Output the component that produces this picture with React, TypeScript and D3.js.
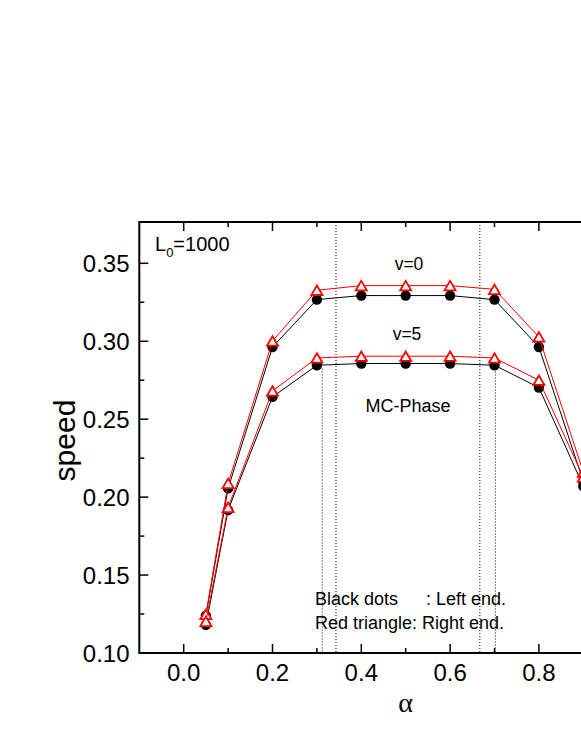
import React from "react";
import * as d3 from "d3";

const alpha = [0.05, 0.1, 0.2, 0.3, 0.4, 0.5, 0.6, 0.7, 0.8, 0.9];
const v0Left = [0.124, 0.2056, 0.2963, 0.3267, 0.3293, 0.3293, 0.3293, 0.3267, 0.2963, 0.21];
const v0Right = [0.1248, 0.2088, 0.3002, 0.3327, 0.3357, 0.3357, 0.3357, 0.3333, 0.3028, 0.216];
const v5Left = [0.118, 0.1917, 0.2643, 0.2846, 0.2857, 0.2857, 0.2857, 0.2846, 0.2703, 0.207];
const v5Right = [0.1203, 0.1934, 0.2681, 0.2893, 0.2904, 0.2904, 0.2904, 0.2893, 0.275, 0.213];

const xMajorTicks = [0.0, 0.2, 0.4, 0.6, 0.8, 1.0];
const xTickLabels = ["0.0", "0.2", "0.4", "0.6", "0.8"];
const xMinorTicks = [0.1, 0.3, 0.5, 0.7, 0.9];
const yMajorTicks = [0.1, 0.15, 0.2, 0.25, 0.3, 0.35];
const yMinorTicks = [0.125, 0.175, 0.225, 0.275, 0.325];

const phaseLinesFull = [0.343, 0.667];
const phaseLinesPartial = [0.312, 0.702];
const partialTop = 0.2825;

const W = 581;
const H = 752;
const X0 = -0.1, X1 = 1.1;
const Y0 = 0.1, Y1 = 0.3765;
const left = 139.3, right = 672.1, top = 222, bottom = 653;

export default function App() {
  const x = d3.scaleLinear().domain([X0, X1]).range([left, right]);
  const y = d3.scaleLinear().domain([Y0, Y1]).range([bottom, top]);
  const line = d3
    .line<[number, number]>()
    .x((d) => x(d[0]))
    .y((d) => y(d[1]));
  const pts = (vals: number[]) => alpha.map((a, i) => [a, vals[i]] as [number, number]);
  const font = "'Liberation Sans', Arial, sans-serif";

  const tri = (cx: number, cy: number) => {
    const w = 11, h = 9.5;
    return `M${cx},${cy - h / 2}L${cx + w / 2},${cy + h / 2}L${cx - w / 2},${cy + h / 2}Z`;
  };

  const blackSeries = [v0Left, v5Left];
  const redSeries = [v0Right, v5Right];

  return (
    <svg
      width={W}
      height={H}
      style={{ position: "absolute", left: 0, top: 0, overflow: "hidden", background: "#fff" }}
    >
      <defs>
        <clipPath id="plotclip">
          <rect x={left} y={top} width={right - left} height={bottom - top} />
        </clipPath>
      </defs>
      <rect x={0} y={0} width={W} height={H} fill="#fff" />

      {/* dotted phase lines */}
      <g stroke="#000" strokeWidth={1} strokeDasharray="1,2">
        {phaseLinesFull.map((v, i) => (
          <line key={"f" + i} x1={x(v)} x2={x(v)} y1={y(Y1)} y2={y(Y0)} />
        ))}
        {phaseLinesPartial.map((v, i) => (
          <line key={"p" + i} x1={x(v)} x2={x(v)} y1={y(partialTop)} y2={y(Y0)} />
        ))}
      </g>

      <g clipPath="url(#plotclip)">
        {blackSeries.map((s, i) => (
          <g key={"b" + i}>
            <path d={line(pts(s)) || ""} fill="none" stroke="#000" strokeWidth={1} />
            {pts(s).map((p, j) => (
              <circle key={j} cx={x(p[0])} cy={y(p[1])} r={5.2} fill="#000" />
            ))}
          </g>
        ))}
        {redSeries.map((s, i) => (
          <g key={"r" + i}>
            <path d={line(pts(s)) || ""} fill="none" stroke="#ff0000" strokeWidth={1} />
            {pts(s).map((p, j) => (
              <path key={j} d={tri(x(p[0]), y(p[1]))} fill="#fff" stroke="#ff0000" strokeWidth={1.8} />
            ))}
          </g>
        ))}
      </g>

      {/* frame */}
      <rect x={left} y={top} width={right - left} height={bottom - top} fill="none" stroke="#000" strokeWidth={2} />

      {/* ticks */}
      <g stroke="#000" strokeWidth={1.5}>
        {xMajorTicks.map((t) => (
          <g key={"xm" + t}>
            <line x1={x(t)} x2={x(t)} y1={bottom} y2={bottom - 9} />
            <line x1={x(t)} x2={x(t)} y1={top} y2={top + 9} />
          </g>
        ))}
        {xMinorTicks.map((t) => (
          <g key={"xn" + t}>
            <line x1={x(t)} x2={x(t)} y1={bottom} y2={bottom - 5} />
            <line x1={x(t)} x2={x(t)} y1={top} y2={top + 5} />
          </g>
        ))}
        {yMajorTicks.map((t) => (
          <line key={"ym" + t} x1={left} x2={left + 9} y1={y(t)} y2={y(t)} />
        ))}
        {yMinorTicks.map((t) => (
          <line key={"yn" + t} x1={left} x2={left + 5} y1={y(t)} y2={y(t)} />
        ))}
      </g>

      {/* tick labels */}
      <g fontFamily={font} fontSize={24} fill="#000">
        {xTickLabels.map((t) => (
          <text key={"xl" + t} x={x(+t)} y={681} textAnchor="middle">
            {t}
          </text>
        ))}
        {yMajorTicks.map((t) => (
          <text key={"yl" + t} x={129.5} y={y(t)} dy="0.36em" textAnchor="end">
            {d3.format(".2f")(t)}
          </text>
        ))}
      </g>

      {/* axis titles */}
      <text
        transform={`translate(75,${(top + bottom) / 2 + 3}) rotate(-90)`}
        textAnchor="middle"
        fontFamily={font}
        fontSize={30}
        fill="#000"
      >
        speed
      </text>
      <text x={x(0.5)} y={712} textAnchor="middle" fontFamily="'Liberation Serif', 'DejaVu Serif', serif" fontSize={28} fill="#000">
        α
      </text>

      {/* annotations */}
      <g fontFamily={font} fill="#000">
        <text x={155} y={251} fontSize={20}>
          L<tspan fontSize={13} dy={6}>0</tspan>
          <tspan dy={-6}>=1000</tspan>
        </text>
        <text x={409} y={270} fontSize={17.5} textAnchor="middle">v=0</text>
        <text x={407} y={340} fontSize={17.5} textAnchor="middle">v=5</text>
        <text x={408} y={412} fontSize={18} textAnchor="middle">MC-Phase</text>
        <text x={315} y={605} fontSize={18}>Black dots</text>
        <text x={426} y={605} fontSize={18}>: Left end.</text>
        <text x={315} y={629} fontSize={18}>Red triangle: Right end.</text>
      </g>
    </svg>
  );
}
